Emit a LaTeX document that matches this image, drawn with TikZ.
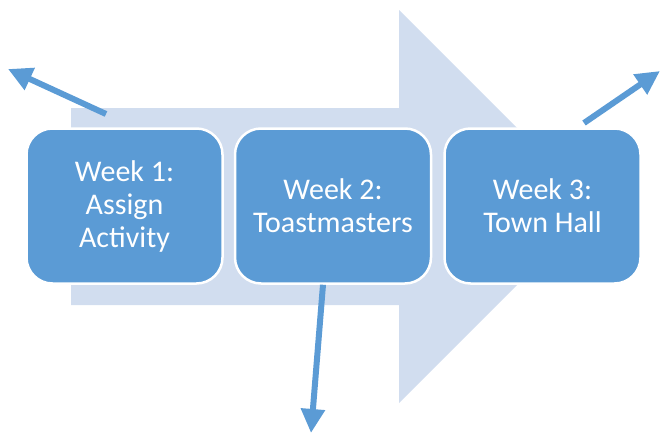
\documentclass[tikz,border=0pt]{standalone}
\usepackage{fontspec}
\setmainfont{Carlito}
\usetikzlibrary{arrows.meta}
\definecolor{boxblue}{HTML}{5B9BD5}
\definecolor{paleblue}{HTML}{D1DDEF}
\tikzset{
  weekbox/.style={draw=white, line width=2.5pt, fill=boxblue, rounded corners=26pt,
    minimum width=196pt, minimum height=155pt, text=white, align=center,
    font=\fontsize{30pt}{33pt}\selectfont, inner sep=0pt},
  outarrow/.style={draw=boxblue, line width=6pt,
    -{Triangle[length=24pt,width=23pt]}, shorten >=0pt}
}
\begin{document}
\begin{tikzpicture}[x=1pt,y=-1pt]
\useasboundingbox (0,0) rectangle (661,434);
\fill[paleblue] (71,108) -- (399,108) -- (399,10) -- (595.5,206.5) -- (399,403) -- (399,305) -- (71,305) -- cycle;
\node[weekbox] (w1) at (124.5,206) {Week 1:\\Assign\\Activity};
\node[weekbox] (w2) at (333,206) {Week 2:\\Toastmasters};
\node[weekbox] (w3) at (542.5,206) {Week 3:\\Town Hall};
\coordinate (t1) at (106,114);
\coordinate (h1) at (8,69);
\coordinate (t3) at (584,123);
\coordinate (h3) at (660,71);
\coordinate (h2) at (311,433);
\draw[outarrow] (t1) -- (h1);
\draw[outarrow] (w2.south -| 323,0) -- (h2);
\draw[outarrow] (t3) -- (h3);
\end{tikzpicture}
\end{document}
